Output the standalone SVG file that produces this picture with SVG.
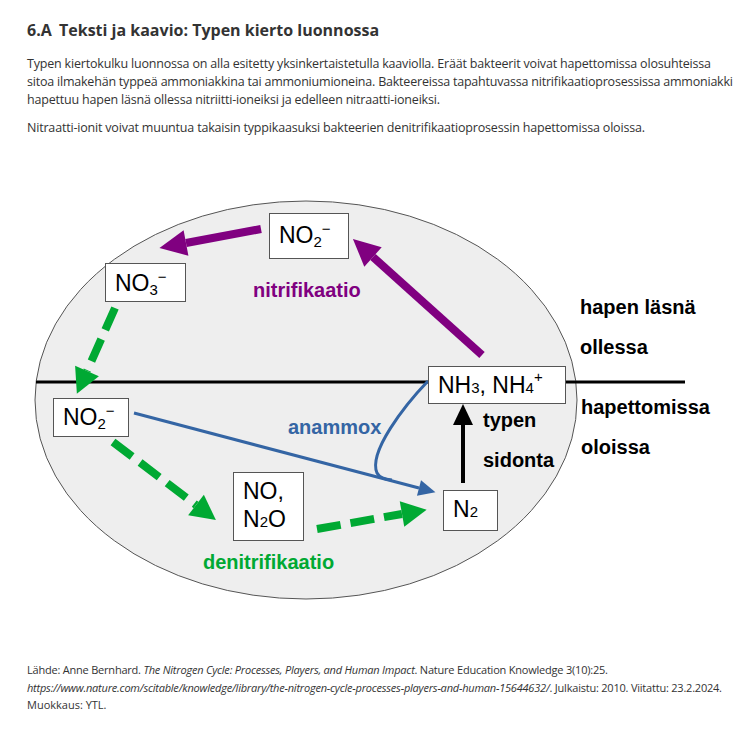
<svg xmlns="http://www.w3.org/2000/svg" width="754" height="739" viewBox="0 0 754 739">
<defs>
<style>
.hd{font-family:"Open Sans","Noto Sans","Liberation Sans",sans-serif;fill:#333}
.title{font-size:16px;font-weight:700}
.body{font-size:12.5px}
.cite{font-size:11px}
.it{font-style:italic}
.box{fill:#fff;stroke:#555;stroke-width:1}
.nt{font-family:"Liberation Sans",Arial,sans-serif;font-size:23px;fill:#000}
.sub{font-size:15px}
.lbl{font-family:"Liberation Sans",Arial,sans-serif;font-size:20px;font-weight:700}
.purple{stroke:#800080;stroke-width:8;fill:none}
.green{stroke:#00a933;stroke-width:8;fill:none;stroke-dasharray:24 10}
.blue{stroke:#3465a4;stroke-width:3;fill:none}
.black{stroke:#000;stroke-width:4;fill:none}
</style>
<marker id="mp" markerUnits="userSpaceOnUse" markerWidth="28" markerHeight="26" refX="0" refY="13" orient="auto" overflow="visible"><path d="M0,0 L27,13 L0,26 z" fill="#800080"/></marker>
<marker id="mg" markerUnits="userSpaceOnUse" markerWidth="26" markerHeight="26" refX="0" refY="13" orient="auto" overflow="visible"><path d="M0,0 L25,13 L0,26 z" fill="#00a933"/></marker>
<marker id="mb" markerUnits="userSpaceOnUse" markerWidth="18" markerHeight="16" refX="0" refY="8" orient="auto" overflow="visible"><path d="M0,0 L17,8 L0,16 z" fill="#3465a4"/></marker>
<marker id="mk" markerUnits="userSpaceOnUse" markerWidth="22" markerHeight="20" refX="0" refY="10" orient="auto" overflow="visible"><path d="M0,0 L21,10 L0,20 z" fill="#000"/></marker>
</defs>
<rect width="754" height="739" fill="#fff"/>

<g id="header" class="hd">
<text class="title" x="27" y="36">6.A<tspan x="59">Teksti ja kaavio: Typen kierto luonnossa</tspan></text>
<text class="body" x="27" y="67.5" textLength="684">Typen kiertokulku luonnossa on alla esitetty yksinkertaistetulla kaaviolla. Eräät bakteerit voivat hapettomissa olosuhteissa</text>
<text class="body" x="27" y="85.5" textLength="706">sitoa ilmakehän typpeä ammoniakkina tai ammoniumioneina. Bakteereissa tapahtuvassa nitrifikaatioprosessissa ammoniakki</text>
<text class="body" x="27" y="103.5" textLength="413">hapettuu hapen läsnä ollessa nitriitti-ioneiksi ja edelleen nitraatti-ioneiksi.</text>
<text class="body" x="27" y="131.5" textLength="618">Nitraatti-ionit voivat muuntua takaisin typpikaasuksi bakteerien denitrifikaatioprosessin hapettomissa oloissa.</text>
</g>

<g id="background">
<ellipse cx="306" cy="400" rx="271" ry="199" fill="#eeeeee" stroke="#555" stroke-width="1"/>
<line x1="36" y1="382" x2="685" y2="382" stroke="#000" stroke-width="3"/>
</g>

<g id="connectors">
<path class="purple" d="M261,229 L186,243" marker-end="url(#mp)"/>
<path class="purple" d="M482,355 L373,257" marker-end="url(#mp)"/>
<path class="green" d="M115,308 L87,371" marker-end="url(#mg)"/>
<path class="green" d="M113,442 L196,505" marker-end="url(#mg)"/>
<path class="green" d="M317,529 L402,514" marker-end="url(#mg)"/>
<path class="blue" d="M134,413 L419,488" marker-end="url(#mb)"/>
<path class="blue" d="M428,381 C405,405 368,452 377,473 Q380,479 392,480"/>
<path class="black" d="M463,483 L463,425" marker-end="url(#mk)"/>
</g>

<g id="node-no2-top">
<rect class="box" x="269.5" y="213.5" width="79" height="45"/>
<text class="nt" x="279" y="243">NO<tspan class="sub" dy="4">2</tspan><tspan class="sub" dy="-13">−</tspan></text>
</g>
<g id="node-no3">
<rect class="box" x="105.5" y="263.5" width="80" height="38"/>
<text class="nt" x="115" y="291">NO<tspan class="sub" dy="4">3</tspan><tspan class="sub" dy="-13">−</tspan></text>
</g>
<g id="node-no2-low">
<rect class="box" x="53.5" y="398.5" width="75" height="38"/>
<text class="nt" x="63" y="425">NO<tspan class="sub" dy="4">2</tspan><tspan class="sub" dy="-13">−</tspan></text>
</g>
<g id="node-no-n2o">
<rect class="box" x="233.5" y="472.5" width="70" height="68"/>
<text class="nt" x="243" y="499">NO,</text>
<text class="nt" x="243" y="527">N<tspan class="sub">2</tspan>O</text>
</g>
<g id="node-nh">
<rect class="box" x="428.5" y="366.5" width="137" height="37"/>
<text class="nt" x="438" y="393">NH<tspan class="sub">3</tspan>, NH<tspan class="sub">4</tspan><tspan class="sub" dy="-11">+</tspan></text>
</g>
<g id="node-n2">
<rect class="box" x="443.5" y="490.5" width="54" height="40"/>
<text class="nt" x="453" y="517">N<tspan class="sub">2</tspan></text>
</g>

<g id="labels">
<text class="lbl" x="253" y="297" fill="#800080">nitrifikaatio</text>
<text class="lbl" x="288" y="434" fill="#3465a4">anammox</text>
<text class="lbl" x="203" y="569" fill="#00a933">denitrifikaatio</text>
<text class="lbl" x="483" y="427" fill="#000">typen</text>
<text class="lbl" x="483" y="467" fill="#000">sidonta</text>
<text class="lbl" x="580" y="314" fill="#000">hapen läsnä</text>
<text class="lbl" x="580" y="354" fill="#000">ollessa</text>
<text class="lbl" x="581" y="414" fill="#000">hapettomissa</text>
<text class="lbl" x="581" y="454" fill="#000">oloissa</text>
</g>

<g id="citation" class="hd cite">
<text x="27" y="674" textLength="581">Lähde: Anne Bernhard. <tspan class="it">The Nitrogen Cycle: Processes, Players, and Human Impact</tspan>. Nature Education Knowledge 3(10):25.</text>
<text x="27" y="692" textLength="695"><tspan class="it">https://www.nature.com/scitable/knowledge/library/the-nitrogen-cycle-processes-players-and-human-15644632/</tspan>. Julkaistu: 2010. Viitattu: 23.2.2024.</text>
<text x="27" y="709">Muokkaus: YTL.</text>
</g>
</svg>
